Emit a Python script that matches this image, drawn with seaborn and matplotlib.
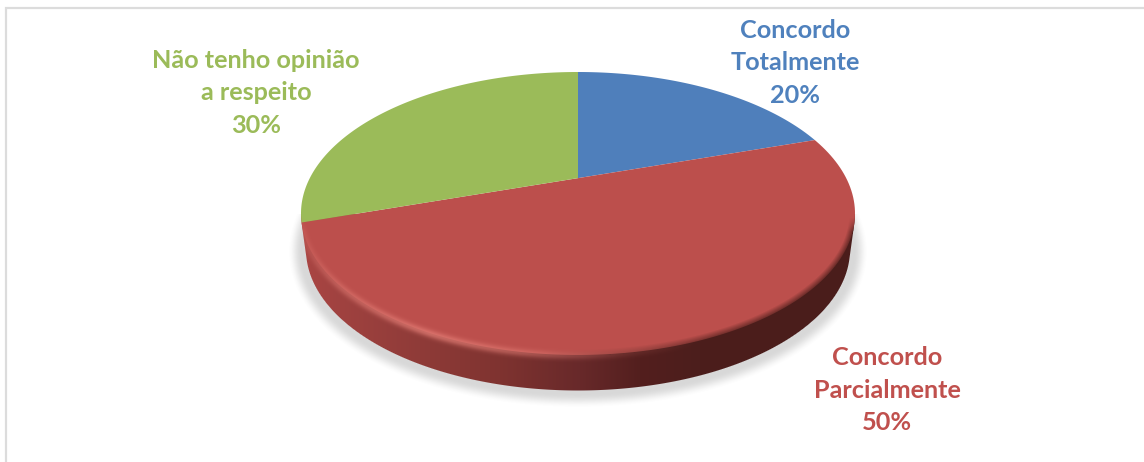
import numpy as np
import matplotlib
matplotlib.use("Agg")
import matplotlib.pyplot as plt
import seaborn as sns
from matplotlib.path import Path
from matplotlib.transforms import Affine2D, Transform

categories = ["Concordo\nTotalmente", "Concordo\nParcialmente", "Não tenho opinião\na respeito"]
shares = [20, 50, 30]
slice_colors = ["#4f7fbb", "#bc4f4c", "#9bbb59"]
label_colors = ["#4f81bd", "#c0504d", "#9bbb59"]
label_anchor_x = [795, 887, 256]
label_anchor_y = [63, 390, 93]

WIDTH, HEIGHT = 1144, 462
CX, CY = 578.0, 213.5      # centre of the top face on the canvas
RX, RY = 277.0, 141.5      # semi-axes of the top face
DEPTH = 36.0               # height of the disc wall
TILT = 0.25                # strength of the perspective foreshortening

sns.set_theme(style="white")
plt.rcParams["font.family"] = ["Lato", "DejaVu Sans"]


class TiltedDisc(Transform):
    """Projects the unit pie onto a disc seen in perspective."""
    input_dims = output_dims = 2
    is_affine = False
    has_inverse = False

    def transform_non_affine(self, values):
        values = np.asarray(values, dtype=float)
        u, v = values[:, 0], values[:, 1]
        a = RX * np.sqrt(1 - TILT ** 2)
        b = RY * (1 - TILT ** 2)
        w = 1 + TILT * v
        y0 = CY - b * TILT / (1 - TILT ** 2)
        return np.column_stack([CX + a * u / w, y0 - b * v / w])

    def transform_path_non_affine(self, path):
        # flatten the arcs at high resolution so they stay true to the projection
        big = path.transformed(Affine2D().scale(2000))
        polys = big.to_polygons(closed_only=True)
        verts = np.concatenate(polys) / 2000
        return Path(self.transform_non_affine(verts), closed=True)


xx, yy = np.meshgrid(np.arange(WIDTH) + 0.5, np.arange(HEIGHT) + 0.5)


def ellipse_distance(cy, rx, ry):
    """Approximate signed pixel distance to an ellipse outline."""
    dx, dy = xx - CX, yy - cy
    r = np.sqrt((dx / rx) ** 2 + (dy / ry) ** 2) + 1e-6
    grad = np.sqrt((dx / rx ** 2) ** 2 + (dy / ry ** 2) ** 2) / r + 1e-9
    return (r - 1) / grad


def lerp_channels(x, stops, colors):
    rgb = np.array([matplotlib.colors.to_rgb(c) for c in colors])
    return np.dstack([np.interp(x, stops, rgb[:, i]) for i in range(3)])


fig = plt.figure(figsize=(WIDTH / 100, HEIGHT / 100), dpi=100, facecolor="white")
ax = fig.add_axes([0, 0, 1, 1])

# soft shadow underneath the disc
d_shadow = ellipse_distance(CY + DEPTH + 2, RX - 1, RY + 1)
t = np.clip(1 - d_shadow / 14, 0, 1)
shadow = np.zeros((HEIGHT, WIDTH, 4))
shadow[..., :3] = 0.5
shadow[..., 3] = 0.3 * t * t * (3 - 2 * t) * (yy > CY)
ax.imshow(shadow, extent=(0, WIDTH, HEIGHT, 0), aspect="auto", zorder=1, interpolation="nearest")

# disc wall with its horizontal shading
wall_alpha = np.zeros((HEIGHT, WIDTH))
for step in np.linspace(0, 1, 37):
    d = ellipse_distance(CY + DEPTH * step, RX - 5 * step, RY - 0.5 * step)
    wall_alpha = np.maximum(wall_alpha, np.clip(0.5 - d, 0, 1))
wall_rgb = lerp_channels(
    xx,
    [300, 340, 420, 500, 580, 640, 700, 860],
    ["#ab4644", "#a04240", "#8f3b38", "#7f3330", "#68292a", "#531f1e", "#4c1e1c", "#4a1d1b"],
)
wall = np.dstack([wall_rgb, wall_alpha * (yy > CY)])
ax.imshow(wall, extent=(0, WIDTH, HEIGHT, 0), aspect="auto", zorder=2, interpolation="nearest")

# pie slices on the top face
wedges, _ = ax.pie(
    shares,
    colors=slice_colors,
    startangle=90,
    counterclock=False,
    wedgeprops={"linewidth": 0, "antialiased": True},
)
projection = TiltedDisc()
for wedge in wedges:
    wedge.set_transform(projection + ax.transData)
    wedge.set_zorder(3)

# bevelled rim along the front edge of the top face
d_rim = ellipse_distance(CY, RX, RY)
front = np.clip((yy - CY - 4) / 14, 0, 1)
glow = np.interp(xx, [303, 340, 430, 520, 620, 700], [0.20, 0.45, 0.70, 0.50, 0.14, 0.0])
highlight = glow * np.exp(-((d_rim - 0.5) / 4.0) ** 2) * front
dark_side = np.interp(xx, [540, 640, 720, 860], [0.0, 0.35, 0.65, 0.75])
soft_edge = np.clip((d_rim + 6) / 6, 0, 1) * dark_side * (d_rim < 0.5) * front
rim = np.zeros((HEIGHT, WIDTH, 4))
light, dark = np.array([0.90, 0.50, 0.47]), np.array([0.29, 0.115, 0.105])
alpha = np.clip(highlight + soft_edge, 0, 1) * wall_alpha
mix = highlight / (highlight + soft_edge + 1e-6)
rim[..., :3] = mix[..., None] * light + (1 - mix[..., None]) * dark
rim[..., 3] = alpha
ax.imshow(rim, extent=(0, WIDTH, HEIGHT, 0), aspect="auto", zorder=4, interpolation="nearest")

# outer frame of the chart area
ax.plot([6, 6, WIDTH], [HEIGHT, 8, 8], color="#dcdcdc", lw=1.6, zorder=0, solid_joinstyle="miter")

# category labels with their percentages
for name, share, color, lx, ly in zip(categories, shares, label_colors, label_anchor_x, label_anchor_y):
    ax.text(lx, ly, f"{name}\n{share}%", color=color, fontsize=18.2, fontweight="bold",
            ha="center", va="center", linespacing=1.49, zorder=5)

ax.set_aspect("auto")
ax.set_xlim(0, WIDTH)
ax.set_ylim(HEIGHT, 0)
ax.set_axis_off()

fig.savefig("out.png", dpi=100, facecolor="white")
